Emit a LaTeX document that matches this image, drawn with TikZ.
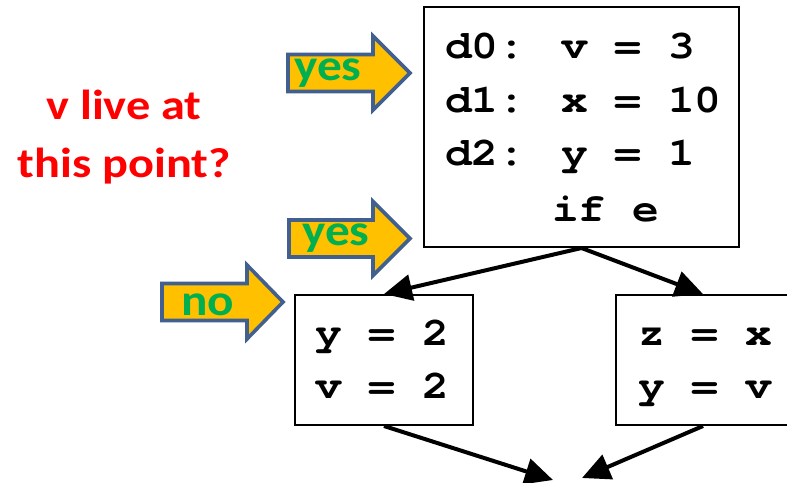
\documentclass[tikz,border=0pt]{standalone}
\usepackage{fontspec}
\usetikzlibrary{arrows.meta}
\newfontfamily\codefont{TeX Gyre Cursor}
\newfontfamily\labelfont{Carlito}
\definecolor{gold}{HTML}{FFC000}
\definecolor{arrowblue}{HTML}{41608F}
\definecolor{okgreen}{HTML}{00B050}
\newcommand{\goldarrow}[4]{%
  \draw[goldarrow] (#1,#2-18.5) -- (#3,#2-18.5) -- (#3,#2-37) -- (#4,#2)
    -- (#3,#2+37) -- (#3,#2+18.5) -- (#1,#2+18.5) -- cycle;}
\begin{document}
\begin{tikzpicture}[x=1pt,y=-1pt,
  box/.style={draw=black, line width=2pt, inner sep=0pt},
  code/.style={font=\codefont\bfseries\fontsize{40}{48}\selectfont, anchor=base west, inner sep=0pt, xscale=1.115},
  flow/.style={line width=4pt, -{Triangle[length=28pt,width=26pt]}},
  goldarrow/.style={fill=gold, draw=arrowblue, line width=3.6pt, line join=miter},
  answer/.style={font=\labelfont\bfseries\fontsize{44}{50}\selectfont, text=okgreen, anchor=base west, inner sep=0pt, xscale=1.12},
  question/.style={font=\labelfont\bfseries\fontsize{42}{50}\selectfont, text=red, anchor=base, inner sep=0pt, xscale=1.15}
]
\clip (0,0) rectangle (787,482);
\fill[white] (0,0) rectangle (787,482);

% blocks
\node[box, minimum width=315pt, minimum height=240pt] (top) at (581.5,127) {};
\node[box, minimum width=178pt, minimum height=130pt] (left) at (384,360) {};
\node[box, minimum width=174pt, minimum height=130pt] (right) at (703,360) {};

% code text
\node[code] (t1) at (445,58) {d0: v = 3};
\node[code] (t2) at (445,112) {d1: x = 10};
\node[code] (t3) at (445,165) {d2: y = 1};
\node[code] (t4) at (552,221) {if e};
\node[code] (l1) at (315,345) {y = 2};
\node[code] (l2) at (315,398) {v = 2};
\node[code] (r1) at (638,345) {z = x};
\node[code] (r2) at (638,398) {y = v};

% flow edges
\coordinate (m1) at (553,480);
\coordinate (m2) at (582,478);
\draw[flow] (top.south) -- (left.north);
\draw[flow] (top.south) -- (right.north);
\draw[flow] (left.south) -- (m1);
\draw[flow] (right.south) -- (m2);

% question
\node[question] (q1) at (124,119) {v live at};
\node[question] (q2) at (124,177) {this point?};

% gold arrows
\goldarrow{288}{73}{373}{410}
\goldarrow{289}{238.5}{373}{410}
\goldarrow{162}{302}{247}{283}
\node[answer] (a1) at (294,80) {yes};
\node[answer] (a2) at (302,245) {yes};
\node[answer] (a3) at (181,315) {no};
\end{tikzpicture}
\end{document}
